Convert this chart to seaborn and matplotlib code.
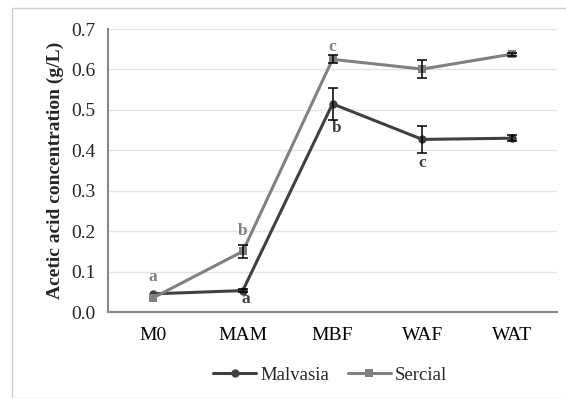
import matplotlib
matplotlib.use("Agg")
import matplotlib.pyplot as plt
import seaborn as sns
import pandas as pd
from matplotlib.patches import Rectangle

categories = ["M0", "MAM", "MBF", "WAF", "WAT"]
malvasia = [0.045, 0.053, 0.515, 0.427, 0.430]
malvasia_err = [0.0, 0.003, 0.040, 0.033, 0.007]
sercial = [0.035, 0.150, 0.625, 0.601, 0.638]
sercial_err = [0.0, 0.017, 0.010, 0.022, 0.004]
# significance letters: (series, category, letter, y position)
letters_series = ["Sercial", "Sercial", "Sercial", "Malvasia", "Malvasia", "Malvasia"]
letters_cat = ["M0", "MAM", "MBF", "MAM", "MBF", "WAF"]
letters_txt = ["a", "b", "c", "a", "b", "c"]
letters_y = [0.087, 0.200, 0.655, 0.033, 0.455, 0.369]
letters_dx = [0.0, 0.0, 0.0, 0.03, 0.05, 0.0]

sns.set_theme(style="white")
plt.rcParams['font.family'] = ['Liberation Serif', 'DejaVu Serif']

colors = {"Malvasia": "#404040", "Sercial": "#808080"}

df = pd.DataFrame({
    "cat": categories * 2,
    "val": malvasia + sercial,
    "series": ["Malvasia"] * 5 + ["Sercial"] * 5,
})

fig = plt.figure(figsize=(5.66, 3.98), dpi=100)
ax = fig.add_axes([0.191, 0.216, 0.793, 0.711])

sns.lineplot(data=df, x="cat", y="val", hue="series", style="series",
             markers={"Malvasia": "o", "Sercial": "s"}, dashes=False,
             palette=colors, linewidth=2.2, markersize=6,
             markeredgewidth=0, ax=ax, legend=True, sort=False)

for vals, errs in [(malvasia, malvasia_err), (sercial, sercial_err)]:
    xs = [i for i, e in enumerate(errs) if e > 0]
    ys = [vals[i] for i in xs]
    es = [errs[i] for i in xs]
    ax.errorbar(xs, ys, yerr=es, fmt="none", ecolor="black",
                elinewidth=1.1, capsize=3.5, capthick=1.1, zorder=5)

for s, c, t, y, dx in zip(letters_series, letters_cat, letters_txt, letters_y, letters_dx):
    ax.text(categories.index(c) + dx, y, t, color=colors[s], ha="center", va="center",
            fontsize=12.5, fontweight="bold")

pos = list(range(len(categories)))
ax.set_xlim(-0.5, 4.5)
ax.set_ylim(0, 0.7)
ax.set_yticks([0, 0.1, 0.2, 0.3, 0.4, 0.5, 0.6, 0.7])
ax.set_yticklabels([f"{v:.1f}" for v in [0, 0.1, 0.2, 0.3, 0.4, 0.5, 0.6, 0.7]])
ax.set_xticks(pos)
ax.set_xticklabels(categories)
ax.set_xticks([p - 0.5 for p in pos] + [4.5], minor=True)
ax.tick_params(axis="x", which="major", length=0, pad=11, labelsize=14, colors="black")
ax.tick_params(axis="x", which="minor", length=5, width=1.2, color="#888888", direction="out")
ax.tick_params(axis="y", which="major", length=5, width=1.2, color="#888888",
               direction="out", labelsize=14, pad=4)
ax.set_xlabel("")
ax.set_ylabel("Acetic acid concentration (g/L)", fontsize=14, fontweight="bold", labelpad=5)
ax.grid(axis="y", color="#e4e4e4", linewidth=1.0)
ax.set_axisbelow(True)
for side in ["top", "right"]:
    ax.spines[side].set_visible(False)
for side in ["left", "bottom"]:
    ax.spines[side].set_color("#888888")
    ax.spines[side].set_linewidth(1.5)

handles, labels = ax.get_legend_handles_labels()
ax.legend(handles, labels, loc="center", bbox_to_anchor=(330 / 566, 1 - 375 / 398),
          bbox_transform=fig.transFigure, ncol=2, frameon=False, fontsize=13.5,
          handlelength=2.3, handletextpad=0.2, columnspacing=1.0)

fig.patches.append(Rectangle((12 / 566, 0), 1.0, 1 - 8 / 398, transform=fig.transFigure,
                             fill=False, edgecolor="#cccccc", linewidth=1.0))

fig.savefig("out.png", dpi=100)
